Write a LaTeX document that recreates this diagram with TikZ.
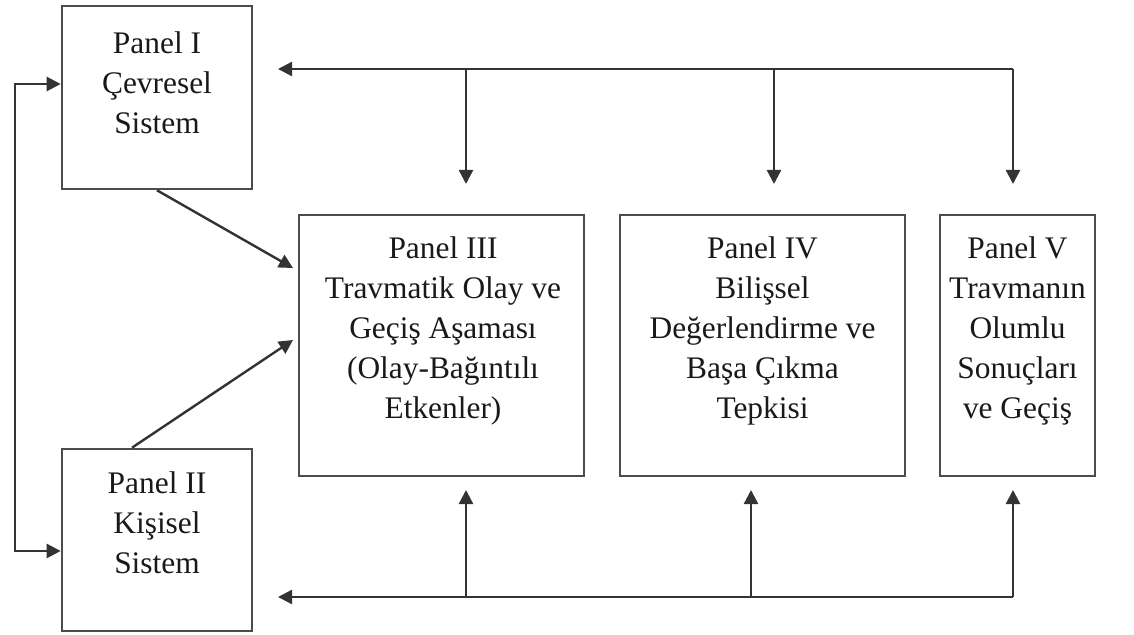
\documentclass[tikz,border=0pt]{standalone}
\usepackage{fontspec}
\setmainfont{Liberation Serif}
\usetikzlibrary{arrows.meta}
\begin{document}
\begin{tikzpicture}[x=0.5pt,y=-0.5pt,
  box/.style={draw=black!70, line width=1.3pt, inner sep=0pt},
  txt/.style={align=center, inner sep=0pt, font=\fontsize{15.7}{20}\selectfont, text=black!90},
  conn/.style={draw=black!80, line width=1.2pt},
  arr/.style={conn, -{Triangle[length=7pt,width=7pt]}}]
\useasboundingbox (0,0) rectangle (1134,635);
% boxes
\node[box, minimum width=95pt, minimum height=91.5pt] (p1) at (157,97.5) {};
\node[box, minimum width=95pt, minimum height=91pt] (p2) at (157,540) {};
\node[box, minimum width=142.5pt, minimum height=130.5pt] (p3) at (441.5,345.5) {};
\node[box, minimum width=142.5pt, minimum height=130.5pt] (p4) at (762.5,345.5) {};
\node[box, minimum width=77.5pt, minimum height=130.5pt] (p5) at (1017.5,345.5) {};
% texts
\node[txt] (t1) at (157,83) {Panel I\\Çevresel\\Sistem};
\node[txt] (t2) at (157,523) {Panel II\\Kişisel\\Sistem};
\node[txt] (t3) at (443,331) {Panel III\\Travmatik Olay ve\\Geçiş Aşaması\\(Olay-Bağıntılı\\Etkenler)};
\node[txt] (t4) at (762.5,331) {Panel IV\\Bilişsel\\Değerlendirme ve\\Başa Çıkma\\Tepkisi};
\node[txt] (t5) at (1017.5,331) {Panel V\\Travmanın\\Olumlu\\Sonuçları\\ve Geçiş};
% top bus
\coordinate (tL) at (278,69);
\coordinate (tA) at (466,69);
\coordinate (tB) at (774,69);
\coordinate (tC) at (1013,69);
\coordinate (eA) at (466,184);
\coordinate (eB) at (774,184);
\coordinate (eC) at (1013,184);
\draw[arr] (tC) -- (tL);
\draw[arr] (tA) -- (eA);
\draw[arr] (tB) -- (eB);
\draw[arr] (tC) -- (eC);
% bottom bus
\coordinate (bL) at (278,597);
\coordinate (bA) at (466,597);
\coordinate (bB) at (751,597);
\coordinate (bC) at (1013,597);
\coordinate (uA) at (466,490);
\coordinate (uB) at (751,490);
\coordinate (uC) at (1013,490);
\draw[arr] (bC) -- (bL);
\draw[arr] (bA) -- (uA);
\draw[arr] (bB) -- (uB);
\draw[arr] (bC) -- (uC);
% left loop
\coordinate (lTop) at (15,84);
\coordinate (lBot) at (15,551);
\draw[arr] (lBot) -- (lTop) -- (lTop -| p1.west);
\draw[arr] (lTop) -- (lBot) -- (lBot -| p2.west);
% diagonals
\coordinate (d1) at (293,268);
\coordinate (d2) at (293,340);
\draw[arr] (p1.south -| 157,0) -- (d1);
\draw[arr] (p2.north -| 132,0) -- (d2);
\end{tikzpicture}
\end{document}
